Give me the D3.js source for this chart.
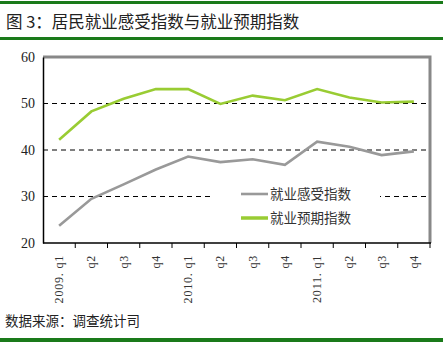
<!DOCTYPE html>
<html><head><meta charset="utf-8">
<script src="https://cdn.jsdelivr.net/npm/d3@7"></script>
<style>body{margin:0;background:#fff}svg{display:block}</style>
</head><body>
<script>
const categories = ["2009. q1","q2","q3","q4","2010. q1","q2","q3","q4","2011. q1","q2","q3","q4"];
const perceptionIndex = [23.7, 29.5, 32.6, 35.8, 38.6, 37.4, 38.0, 36.8, 41.8, 40.7, 38.9, 39.7];
const expectationIndex = [42.2, 48.3, 51.0, 53.1, 53.1, 49.9, 51.7, 50.7, 53.1, 51.3, 50.2, 50.4];
const yTicks = [20, 30, 40, 50, 60];
const gridValues = [30, 40, 50];
const seriesNames = ["就业感受指数", "就业预期指数"];
const title = "图 3：居民就业感受指数与就业预期指数";
const source = "数据来源：调查统计司";

const W = 443, H = 344;
const svg = d3.select("body").append("svg").attr("width", W).attr("height", H);
const cjk = "'Noto Sans CJK SC', sans-serif";
const serif = "'Liberation Serif', 'DejaVu Serif', serif";

// frame lines
svg.append("rect").attr("x",0).attr("y",1).attr("width",W).attr("height",3).attr("fill","#1a7a1a");
svg.append("rect").attr("x",0).attr("y",37).attr("width",W).attr("height",3).attr("fill","#1a7a1a");
svg.append("rect").attr("x",0).attr("y",338).attr("width",W).attr("height",4).attr("fill","#1a7a1a");

svg.append("text").attr("x",6).attr("y",28).attr("font-family",cjk).attr("font-size",16.5)
  .attr("fill","#222").text(title);
svg.append("text").attr("x",5).attr("y",326).attr("font-family",cjk).attr("font-size",13.5)
  .attr("fill","#222").text(source);

const L = 43, R = 430, T = 57, B = 243;
const x = d3.scaleBand().domain(categories.map((d,i)=>i)).range([L,R]);
const y = d3.scaleLinear().domain([20,60]).range([B,T]);

// gridlines
svg.append("g").selectAll("line").data(gridValues).join("line")
  .attr("x1",L).attr("x2",R).attr("y1",d=>y(d)).attr("y2",d=>y(d))
  .attr("stroke","#000").attr("stroke-width",1).attr("stroke-dasharray","5,4");

// top and right gray border
svg.append("path").attr("d",`M${L},${T}H${R}V${B}`).attr("fill","none")
  .attr("stroke","#888").attr("stroke-width",3);

// y axis
const yAxis = svg.append("g").attr("transform",`translate(${L},0)`)
  .call(d3.axisLeft(y).tickValues(yTicks).tickSize(0).tickPadding(8));
yAxis.select(".domain").attr("stroke","#000").attr("stroke-width",1.5);
yAxis.selectAll("text").attr("font-family",serif).attr("font-size",14).attr("fill","#222");

// x axis
const xAxis = svg.append("g").attr("transform",`translate(0,${B})`)
  .call(d3.axisBottom(x).tickSize(0).tickFormat(""));
xAxis.select(".domain").remove();
svg.append("line").attr("x1",L).attr("x2",R+1).attr("y1",B).attr("y2",B).attr("stroke","#000").attr("stroke-width",1.5);
const bounds = categories.map((d,i)=>x(i)+x.bandwidth());
svg.append("g").selectAll("line").data(bounds).join("line")
  .attr("x1",d=>d).attr("x2",d=>d).attr("y1",B).attr("y2",B+5).attr("stroke","#000").attr("stroke-width",1);
svg.append("g").selectAll("text").data(categories).join("text")
  .attr("transform",(d,i)=>`translate(${x(i)+x.bandwidth()/2+4},${B+12}) rotate(-90)`)
  .attr("text-anchor","end").attr("font-family",serif).attr("font-size",12)
  .attr("letter-spacing",0.8).attr("fill","#333")
  .text(d=>d);

// lines
const line = d3.line().x((d,i)=>x(i)+x.bandwidth()/2).y(d=>y(d));
svg.append("path").datum(perceptionIndex).attr("d",line).attr("fill","none")
  .attr("stroke","#999999").attr("stroke-width",2.6);
svg.append("path").datum(expectationIndex).attr("d",line).attr("fill","none")
  .attr("stroke","#99cc33").attr("stroke-width",2.6);

// legend
svg.append("rect").attr("x",210).attr("y",180).attr("width",170).attr("height",50).attr("fill","#fff");
const colors = ["#999999","#99cc33"];
const lg = svg.append("g").selectAll("g").data(seriesNames).join("g")
  .attr("transform",(d,i)=>`translate(241,${194+i*24})`);
lg.append("line").attr("x1",0).attr("x2",27).attr("stroke",(d,i)=>colors[i]).attr("stroke-width",(d,i)=>i?3.5:2.6);
lg.append("text").attr("x",29).attr("y",5).attr("font-family",cjk).attr("font-size",13.5)
  .attr("fill","#333").text(d=>d);
</script>
</body></html>
